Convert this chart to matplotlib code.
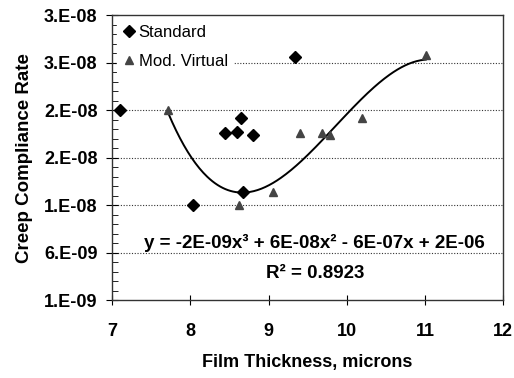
import numpy as np
import matplotlib
matplotlib.use('Agg')
import matplotlib.pyplot as plt
from matplotlib.ticker import MultipleLocator, FuncFormatter

plt.rcParams['font.family'] = ['Liberation Sans', 'DejaVu Sans']

# Standard samples
std_x = [7.10, 8.04, 8.44, 8.60, 8.65, 8.80, 8.68, 9.34]
std_y = [2.10e-8, 1.10e-8, 1.86e-8, 1.87e-8, 2.02e-8, 1.84e-8, 1.24e-8, 2.66e-8]

# Mod. Virtual samples
mv_x = [7.72, 8.62, 9.06, 9.40, 9.69, 9.79, 10.20, 11.01]
mv_y = [2.10e-8, 1.10e-8, 1.24e-8, 1.86e-8, 1.86e-8, 1.84e-8, 2.02e-8, 2.68e-8]

eq_text = 'y = -2E-09x³ + 6E-08x² - 6E-07x + 2E-06'
r2_text = 'R² = 0.8923'

fig = plt.figure(figsize=(5.14, 3.78), dpi=100)
ax = fig.add_axes([0.218, 0.206, 0.761, 0.754])

# cubic trendline through the Mod. Virtual points
coef = np.polyfit(mv_x, mv_y, 3)
xs = np.linspace(min(mv_x), max(mv_x), 200)
ax.plot(xs, np.polyval(coef, xs), color='black', lw=1.4, zorder=2)

ax.plot(std_x, std_y, 'D', color='black', ms=6, label='Standard', zorder=3)
ax.plot(mv_x, mv_y, '^', color='#444444', ms=6, label='Mod. Virtual', zorder=3)

ax.set_xlim(7, 12)
ax.set_ylim(1e-9, 3.1e-8)
ax.xaxis.set_major_locator(MultipleLocator(1))
ax.set_yticks(np.arange(1e-9, 3.11e-8, 5e-9))
ax.yaxis.set_minor_locator(MultipleLocator(1e-9))
ax.yaxis.set_major_formatter(FuncFormatter(lambda v, p: format(v, '#.0E')))

for yv in ax.get_yticks()[1:-1]:
    ax.axhline(yv, color='#333333', ls=(0, (1, 1.5)), lw=0.8, zorder=1)

ax.tick_params(axis='both', labelsize=13, width=0.8)
ax.tick_params(axis='x', direction='inout', length=7, pad=13)
ax.tick_params(axis='y', which='major', direction='inout', length=9, pad=6)
ax.tick_params(axis='y', which='minor', direction='in', length=4)
for lab in ax.get_xticklabels() + ax.get_yticklabels():
    lab.set_fontweight('bold')
for s in ax.spines.values():
    s.set_color('#333333')
    s.set_linewidth(1.0)

ax.set_xlabel('Film Thickness, microns', fontsize=13, fontweight='bold', labelpad=10)
ax.set_ylabel('Creep Compliance Rate', fontsize=13.5, fontweight='bold', labelpad=8)

ax.text(0.517, 0.20, eq_text, transform=ax.transAxes, ha='center', va='center',
        fontsize=13.5, fontweight='bold')
ax.text(0.52, 0.095, r2_text, transform=ax.transAxes, ha='center', va='center',
        fontsize=13.5, fontweight='bold')

leg = ax.legend(loc='upper left', frameon=True, fontsize=12, handletextpad=0.2,
                borderaxespad=0.3, labelspacing=0.85, handlelength=0.8, borderpad=0.3)
leg.get_frame().set_edgecolor('white')
leg.get_frame().set_alpha(1)

fig.savefig('out.png', dpi=100)
